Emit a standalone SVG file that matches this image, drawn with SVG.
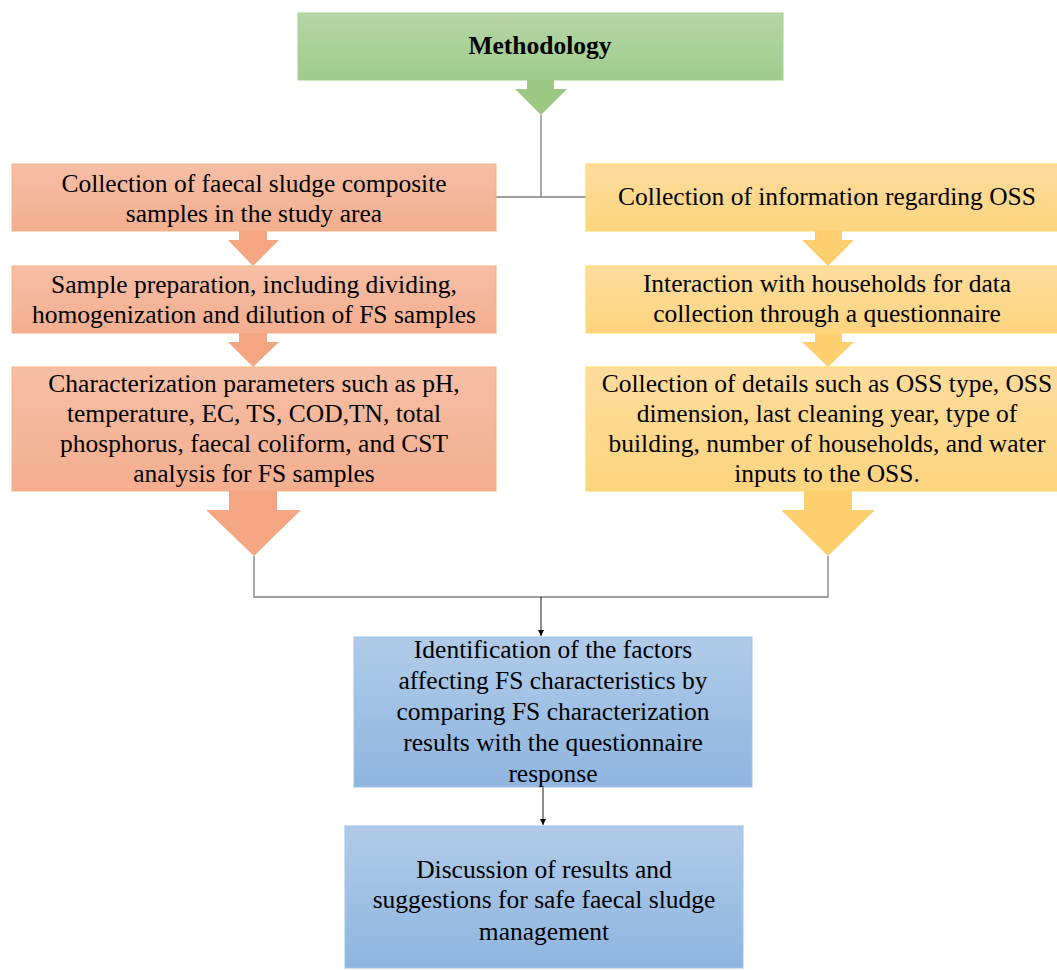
<svg xmlns="http://www.w3.org/2000/svg" width="1057" height="970" viewBox="0 0 1057 970">
<defs>
<linearGradient id="gG" x1="0" y1="0" x2="0" y2="1"><stop offset="0" stop-color="#b5d6a7"/><stop offset="1" stop-color="#a0cb8c"/></linearGradient>
<linearGradient id="gO" x1="0" y1="0" x2="0" y2="1"><stop offset="0" stop-color="#f6bea4"/><stop offset="1" stop-color="#f3ae8f"/></linearGradient>
<linearGradient id="gY" x1="0" y1="0" x2="0" y2="1"><stop offset="0" stop-color="#fedc9c"/><stop offset="1" stop-color="#fdd47f"/></linearGradient>
<linearGradient id="gB" x1="0" y1="0" x2="0" y2="1"><stop offset="0" stop-color="#b0cbe8"/><stop offset="1" stop-color="#8fb5e0"/></linearGradient>
<marker id="ah" viewBox="0 0 10 10" refX="10" refY="5" markerWidth="6" markerHeight="6" orient="auto" markerUnits="userSpaceOnUse"><path d="M0,0 L10,5 L0,10 z" fill="#000"/></marker>
<style>
text{font-family:"Liberation Serif","Times New Roman",serif;font-size:25.5px;fill:#000;text-anchor:middle}
.b{font-weight:bold}
.g{fill:url(#gG);stroke:#a9d18e;stroke-width:1}
.o{fill:url(#gO);stroke:#f4b183;stroke-width:1}
.y{fill:url(#gY);stroke:#ffd966;stroke-width:1}
.bl{fill:url(#gB);stroke:#9dc3e6;stroke-width:1}
.con{fill:none;stroke:#7f7f7f;stroke-width:1.3}
.con2{fill:none;stroke:#404040;stroke-width:1.2}
</style>
</defs>
<g id="connectors">
<polyline class="con" points="541,115 541,197"/>
<line class="con" x1="496" y1="197" x2="586" y2="197"/>
<polyline class="con" points="254,556 254,597 828,597 828,556"/>
<line class="con2" x1="541" y1="597" x2="541" y2="636" marker-end="url(#ah)"/>
<line class="con2" x1="543" y1="787" x2="543" y2="825" marker-end="url(#ah)"/>
</g>
<g id="methodology">
<rect class="g" x="298" y="13" width="485" height="67"/>
<text class="b" x="540" y="54">Methodology</text>
<polygon points="527,80 554,80 554,89 567,89 541,115 515,89 527,89" fill="#9bc984"/>
</g>
<g id="left1">
<rect class="o" x="12" y="164" width="484" height="67"/>
<text x="254" y="192">Collection of faecal sludge composite</text>
<text x="254" y="222">samples in the study area</text>
<polygon points="239,231 267,231 267,240 279,240 253,266 228,240 239,240" fill="#f4a582"/>
</g>
<g id="left2">
<rect class="o" x="12" y="266" width="484" height="67"/>
<text x="254" y="293">Sample preparation, including dividing,</text>
<text x="254" y="323">homogenization and dilution of FS samples</text>
<polygon points="239,333 267,333 267,342 279,342 253,367 228,342 239,342" fill="#f4a582"/>
</g>
<g id="left3">
<rect class="o" x="12" y="367" width="484" height="124"/>
<text x="254" y="392">Characterization parameters such as pH,</text>
<text x="254" y="422">temperature, EC, TS, COD,TN, total</text>
<text x="254" y="452">phosphorus, faecal coliform, and CST</text>
<text x="254" y="482">analysis for FS samples</text>
<polygon points="229,491 277,491 277,510 301,510 254,556 206,510 229,510" fill="#f4a582"/>
</g>
<g id="right1">
<rect class="y" x="586" y="164" width="484" height="67"/>
<text x="827" y="205">Collection of information regarding OSS</text>
<polygon points="815,231 842,231 842,240 854,240 828,266 802,240 815,240" fill="#fecf6f"/>
</g>
<g id="right2">
<rect class="y" x="586" y="266" width="484" height="67"/>
<text x="827" y="292">Interaction with households for data</text>
<text x="827" y="322">collection through a questionnaire</text>
<polygon points="815,333 842,333 842,342 854,342 828,367 802,342 815,342" fill="#fecf6f"/>
</g>
<g id="right3">
<rect class="y" x="586" y="367" width="484" height="124"/>
<text x="827" y="392">Collection of details such as OSS type, OSS</text>
<text x="827" y="422">dimension, last cleaning year, type of</text>
<text x="827" y="452">building, number of households, and water</text>
<text x="827" y="482">inputs to the OSS.</text>
<polygon points="804,491 852,491 852,510 875,510 828,556 781,510 804,510" fill="#fecf6f"/>
</g>
<g id="identify">
<rect class="bl" x="354" y="637" width="398" height="150"/>
<text x="553" y="658">Identification of the factors</text>
<text x="553" y="689">affecting FS characteristics by</text>
<text x="553" y="720">comparing FS characterization</text>
<text x="553" y="751">results with the questionnaire</text>
<text x="553" y="782">response</text>
</g>
<g id="discussion">
<rect class="bl" x="345" y="826" width="398" height="142"/>
<text x="544" y="878">Discussion of results and</text>
<text x="544" y="908">suggestions for safe faecal sludge</text>
<text x="544" y="940">management</text>
</g>
</svg>
